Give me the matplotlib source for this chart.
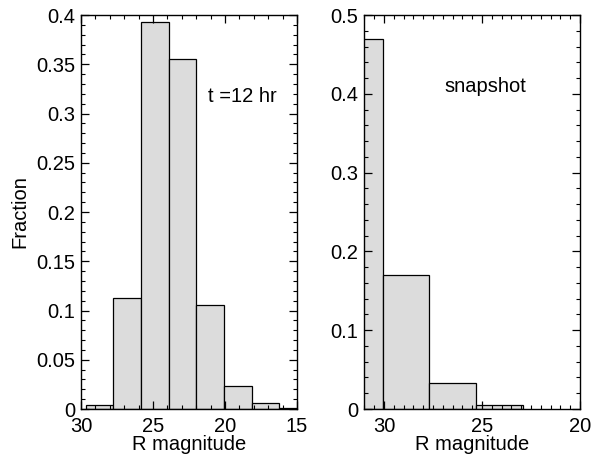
import numpy as np
import matplotlib
matplotlib.use("Agg")
import matplotlib.pyplot as plt
from matplotlib.ticker import MultipleLocator

plt.rcParams['font.family'] = ['Liberation Sans', 'DejaVu Sans']
FS = 14.5

# 左パネル: t = 12 hr
edges_12hr = [29.67, 27.75, 25.83, 23.91, 21.99, 20.07, 18.15, 16.23, 14.31]
frac_12hr = [0.004, 0.113, 0.393, 0.355, 0.106, 0.023, 0.006, 0.001]

# 右パネル: snapshot
edges_snap = [32.45, 30.07, 27.69, 25.31, 22.93]
frac_snap = [0.470, 0.170, 0.033, 0.005]

fig = plt.figure(figsize=(5.97, 4.59), dpi=100)
ax1 = fig.add_axes([0.1357, 0.1089, 0.3618, 0.8584])
ax2 = fig.add_axes([0.6097, 0.1089, 0.3618, 0.8584])


def histbars(ax, edges, frac):
    e = np.array(edges)
    ax.bar(e[:-1], frac, width=np.diff(e), align='edge',
           color='#dcdcdc', edgecolor='black', linewidth=0.9)


def style(ax):
    ax.tick_params(which='both', direction='in', top=True, right=True,
                   labelsize=FS)
    ax.tick_params(axis='x', pad=6)
    ax.tick_params(axis='y', pad=4)
    ax.tick_params(which='major', length=6, width=0.9)
    ax.tick_params(which='minor', length=3, width=0.8)
    for s in ax.spines.values():
        s.set_linewidth(1.0)
    ax.set_xlabel("R magnitude", fontsize=FS, labelpad=-1)


histbars(ax1, edges_12hr, frac_12hr)
ax1.set_xlim(30, 15)
ax1.set_ylim(0, 0.4)
ax1.xaxis.set_minor_locator(MultipleLocator(1))
ax1.yaxis.set_minor_locator(MultipleLocator(0.01))
ax1.set_yticks(np.arange(0, 0.401, 0.05))
ax1.set_yticklabels(["0", "0.05", "0.1", "0.15", "0.2", "0.25", "0.3", "0.35", "0.4"])
ax1.set_xticks([30, 25, 20, 15])
ax1.set_xticklabels(["30", "25", "20", "15"])
style(ax1)
ax1.set_ylabel("Fraction", fontsize=FS, labelpad=5)
ax1.text(21.18, 0.317, "t =12 hr", fontsize=FS, va='center', ha='left')

histbars(ax2, edges_snap, frac_snap)
ax2.set_xlim(31.02, 20)
ax2.set_ylim(0, 0.5)
ax2.xaxis.set_minor_locator(MultipleLocator(0.5))
ax2.yaxis.set_minor_locator(MultipleLocator(0.02))
ax2.set_xticks([30, 25, 20])
ax2.set_xticklabels(["30", "25", "20"])
ax2.set_yticks(np.arange(0, 0.501, 0.1))
ax2.set_yticklabels(["0", "0.1", "0.2", "0.3", "0.4", "0.5"])
style(ax2)
ax2.text(26.92, 0.409, "snapshot", fontsize=FS, va='center', ha='left')

fig.savefig("out.png", dpi=100)
